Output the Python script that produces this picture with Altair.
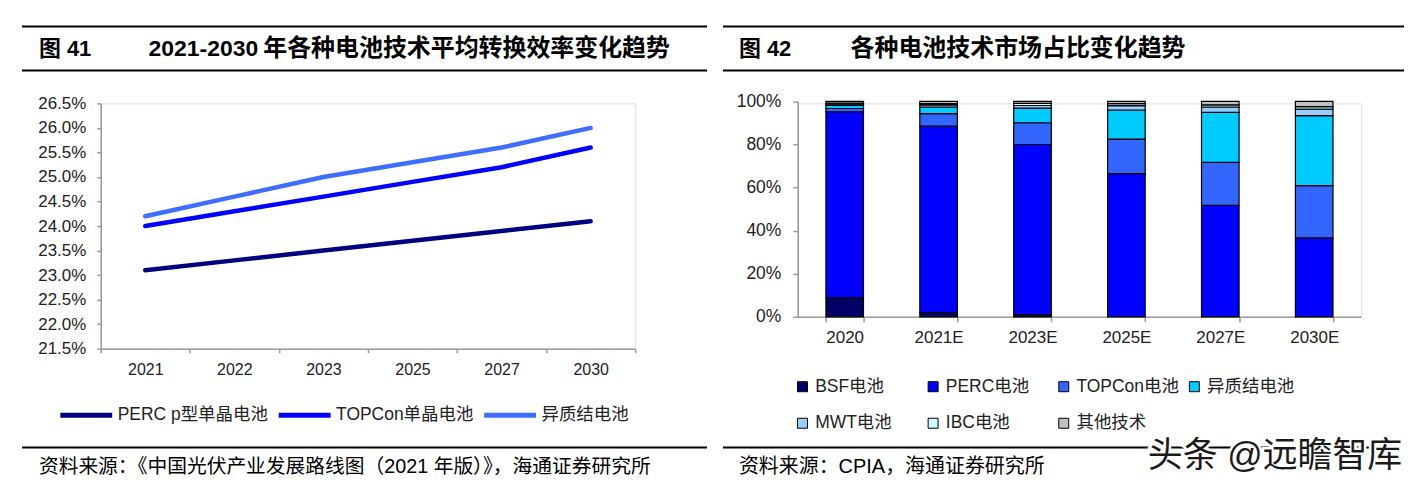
import altair as alt
import pandas as pd

FONT = "Liberation Sans, Arial, Noto Sans CJK SC"

# ---- left chart data: average conversion efficiency (%) ----
years = ["2021", "2022", "2023", "2025", "2027", "2030"]
perc_eff = [23.1, 23.3, 23.5, 23.7, 23.9, 24.1]
topcon_eff = [24.0, 24.3, 24.6, 24.9, 25.2, 25.6]
hjt_eff = [24.2, 24.6, 25.0, 25.3, 25.6, 26.0]
series_names = ["PERC p型单晶电池", "TOPCon单晶电池", "异质结电池"]
line_colors = ["#000080", "#0000FF", "#3D6EFF"]
eff_ticks = [21.5, 22.0, 22.5, 23.0, 23.5, 24.0, 24.5, 25.0, 25.5, 26.0, 26.5]

# ---- right chart data: market share (%) ----
bar_years = ["2020", "2021E", "2023E", "2025E", "2027E", "2030E"]
techs = ["BSF电池", "PERC电池", "TOPCon电池", "异质结电池", "MWT电池", "IBC电池", "其他技术"]
bsf_share = [8.8, 2.0, 1.0, 0.0, 0.0, 0.0]
perc_share = [86.4, 86.5, 79.0, 66.5, 51.8, 36.6]
topcon_share = [1.5, 5.8, 10.1, 16.0, 19.9, 24.3]
hjt_share = [1.4, 3.1, 6.8, 13.5, 23.2, 32.5]
mwt_share = [0.6, 1.0, 1.2, 2.0, 2.5, 3.0]
ibc_share = [0.5, 0.6, 1.0, 1.0, 1.0, 1.2]
other_share = [0.8, 1.0, 0.9, 1.0, 1.6, 2.4]
bar_colors = ["#000066", "#0000FF", "#3366FF", "#00CCFF", "#99CCFF", "#CCFFFF", "#C0C0C0"]
share_ticks = [0, 20, 40, 60, 80, 100]

left_df = pd.DataFrame({
    "year": years * 3,
    "series": [s for s in series_names for _ in years],
    "eff": perc_eff + topcon_eff + hjt_eff,
})

rows = []
for ti, (t, vals) in enumerate(zip(techs, [bsf_share, perc_share, topcon_share, hjt_share,
                                            mwt_share, ibc_share, other_share])):
    for y, v in zip(bar_years, vals):
        if v > 0:
            rows.append({"year": y, "tech": t, "idx": ti, "share": v})
right_df = pd.DataFrame(rows)

one = pd.DataFrame({"k": [0]})


def txt(s, x, y, size, bold=False, color="#000000"):
    return alt.Chart(one).mark_text(
        text=s, align="left", baseline="middle", fontSize=size,
        fontWeight="bold" if bold else "normal", font=FONT, color=color
    ).encode(x=alt.value(x), y=alt.value(y))


def hrule(x1, x2, y, w=2):
    return alt.Chart(one).mark_rule(color="#000000", strokeWidth=w).encode(
        x=alt.value(x1), x2=alt.value(x2), y=alt.value(y))


def frame(x1, x2, y1, y2):
    return alt.Chart(one).mark_rect(opacity=0).encode(
        x=alt.value(x1), x2=alt.value(x2), y=alt.value(y1), y2=alt.value(y2))


axis_common = dict(domainColor="#9a9a9a", domainWidth=1.5, tickColor="#9a9a9a", tickWidth=1.5,
                   labelColor="#222222", labelFont=FONT, title=None, grid=False)

# ---------------- left panel (origin page 100,102) ----------------
LW, LH = 536, 246
lines = alt.Chart(left_df).mark_line(strokeWidth=4.5, strokeCap="round").encode(
    x=alt.X("year:O", sort=years, bandPosition=0.5,
            scale=alt.Scale(type="band", paddingInner=0, paddingOuter=0),
            axis=alt.Axis(labelAngle=0, labelFontSize=16, tickBand="extent", tickSize=4,
                          labelPadding=9, **axis_common)),
    y=alt.Y("eff:Q", scale=alt.Scale(domain=[21.5, 26.5], nice=False, zero=False),
            axis=alt.Axis(values=eff_ticks, labelExpr="format(datum.value, '.1f') + '%'",
                          labelFontSize=17, tickSize=4, labelPadding=11, **axis_common)),
    color=alt.Color("series:N", scale=alt.Scale(domain=series_names, range=line_colors),
                    legend=alt.Legend(orient="none", legendX=-43, legendY=284,
                                      direction="horizontal", title=None, symbolType="stroke",
                                      symbolSize=2704, symbolStrokeWidth=5, labelFontSize=17.5,
                                      labelFont=FONT, labelColor="#222222", labelOffset=3,
                                      columnPadding=0, labelLimit=400)),
)

left = alt.layer(
    frame(-92, 614, -94, 377),
    hrule(-79, 608, -77),
    hrule(-79, 608, -33),
    txt("图 41", -62, -55, 22, bold=True),
    txt("2021-2030", 48, -55, 23, bold=True),
    txt("年各种电池技术平均转换效率变化趋势", 163, -55, 24, bold=True),
    lines,
    hrule(-79, 608, 345),
    txt("资料来源：《中国光伏产业发展路线图（2021 年版）》，海通证券研究所", -62, 365, 19.8),
).properties(width=LW, height=LH)

# ---------------- right panel (origin page 797,102) ----------------
RW, RH = 565, 214
bars = alt.Chart(right_df).mark_bar(stroke="#000000", strokeWidth=1.2).encode(
    x=alt.X("year:O", sort=bar_years,
            scale=alt.Scale(type="band", paddingInner=0.6, paddingOuter=0.3),
            axis=alt.Axis(labelAngle=0, labelFontSize=17, tickBand="extent", tickSize=5,
                          labelPadding=8, **axis_common)),
    y=alt.Y("share:Q", stack="zero", scale=alt.Scale(domain=[0, 100], nice=False, range=[214, -2]),
            axis=alt.Axis(values=share_ticks, labelExpr="datum.value + '%'", labelFontSize=17.5,
                          tickSize=5, labelPadding=12, **axis_common)),
    color=alt.Color("tech:N", scale=alt.Scale(domain=techs, range=bar_colors),
                    legend=alt.Legend(orient="none", legendX=-4, legendY=275, columns=4,
                                      direction="horizontal",
                                      gridAlign="all", title=None, symbolType="square",
                                      symbolSize=100, symbolStrokeColor="#000000",
                                      symbolStrokeWidth=1, labelFontSize=17.5, labelFont=FONT,
                                      labelColor="#222222", labelOffset=4, columnPadding=6,
                                      rowPadding=18, labelLimit=400)),
    order=alt.Order("idx:Q", sort="ascending"),
)

wm_halo = alt.Chart(one).mark_text(
    text="头条 @远瞻智库", align="left", baseline="middle", fontSize=35, font=FONT,
    stroke="#ffffff", strokeWidth=5, fill="#ffffff"
).encode(x=alt.value(351), y=alt.value(354))
wm = txt("头条 @远瞻智库", 351, 354, 35, color="#1a1a1a")

right = alt.layer(
    frame(-83, 614, -94, 377),
    hrule(-75, 608, -77),
    hrule(-75, 608, -33),
    txt("图 42", -59, -55, 22, bold=True),
    txt("各种电池技术市场占比变化趋势", 53, -55, 24, bold=True),
    bars,
    hrule(-75, 596, 345),
    txt("资料来源：CPIA，海通证券研究所", -59, 365, 20),
    wm_halo,
    wm,
).properties(width=RW, height=RH)

chart = (
    alt.hconcat(left, right, spacing=0)
    .resolve_scale(color="independent", x="independent", y="independent")
    .resolve_legend(color="independent")
    .properties(padding=0)
    .configure_view(stroke=None)
    .configure(background="#ffffff")
)

chart.save("out.html", embed_options={"renderer": "svg", "actions": False})
